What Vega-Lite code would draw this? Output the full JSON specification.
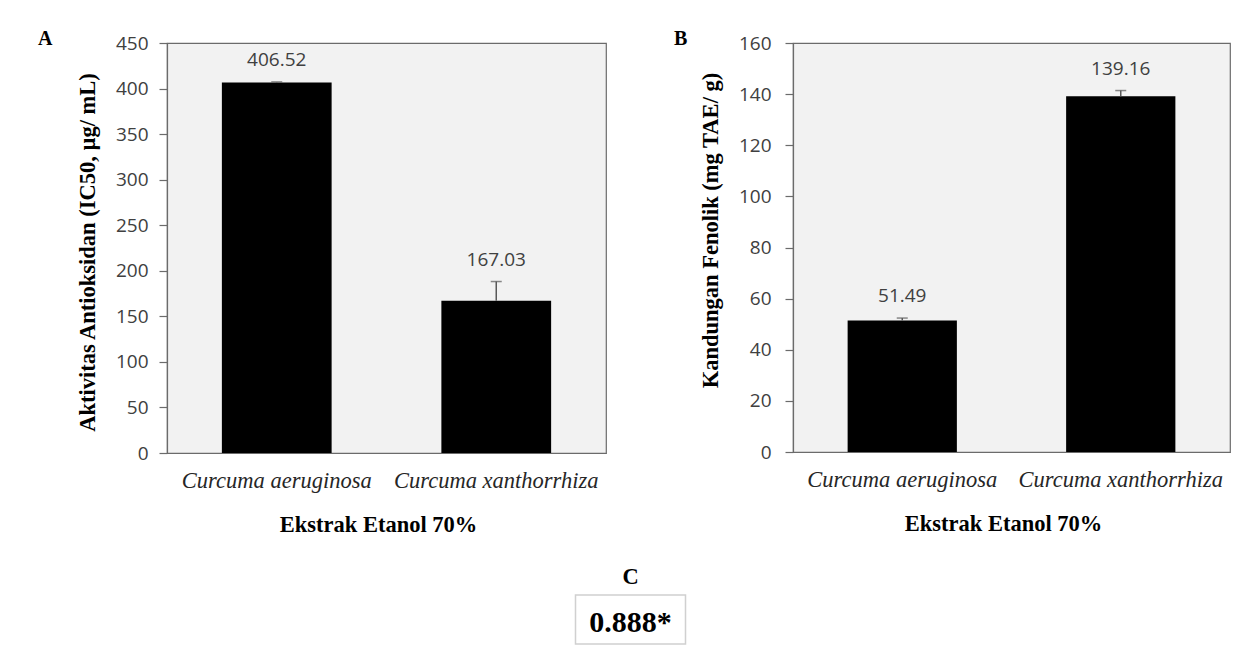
{
  "$schema": "https://vega.github.io/schema/vega-lite/v6.json",
  "background": "white",
  "padding": {"left": 37, "top": 28, "right": 10, "bottom": 4},
  "config": {
    "view": {"stroke": null},
    "axis": {"grid": false, "domainColor": "#6b6b6b", "tickColor": "#6b6b6b", "domainWidth": 1.2, "tickWidth": 1.2}
  },
  "datasets": {
    "antioksidan": [
      {"ekstrak": "Curcuma aeruginosa", "nilai": 406.52, "atas": 407.3},
      {"ekstrak": "Curcuma xanthorrhiza", "nilai": 167.03, "atas": 188.2}
    ],
    "fenolik": [
      {"ekstrak": "Curcuma aeruginosa", "nilai": 51.49, "atas": 52.4},
      {"ekstrak": "Curcuma xanthorrhiza", "nilai": 139.16, "atas": 141.4}
    ],
    "korelasi": [
      {"panel": "C", "nilai": "0.888*"}
    ]
  },
  "vconcat": [
    {
      "hconcat": [
        {
          "width": 439,
          "height": 410,
          "view": {"fill": "#f2f2f2", "stroke": "#6b6b6b", "strokeWidth": 1.2},
          "title": {"text": "A", "anchor": "start", "frame": "group", "orient": "top", "dx": -129, "offset": -31, "baseline": "alphabetic", "font": "Liberation Serif", "fontSize": 20, "fontWeight": "bold", "color": "#000000"},
          "data": {"name": "antioksidan"},
          "encoding": {
            "x": {
              "field": "ekstrak", "type": "nominal", "sort": null,
              "scale": {"paddingInner": 0.5, "paddingOuter": 0.25},
              "title": "Ekstrak Etanol 70%",
              "axis": {"labelAngle": 0, "ticks": false, "tickSize": 0, "labelPadding": 16, "labelLimit": 0, "labelFont": "Liberation Serif", "labelFontStyle": "italic", "labelFontSize": 22.5, "labelColor": "#262626", "titleFont": "Liberation Serif", "titleFontWeight": "bold", "titleFontSize": 22.5, "titleColor": "#000000", "titlePadding": 22, "titleX": 211}
            }
          },
          "layer": [
            {
              "mark": {"type": "bar", "color": "#000000"},
              "encoding": {
                "y": {
                  "field": "nilai", "type": "quantitative",
                  "scale": {"domain": [0, 450], "nice": false},
                  "title": "Aktivitas  Antioksidan (IC50, µg/ mL)",
                  "axis": {"values": [0, 50, 100, 150, 200, 250, 300, 350, 400, 450], "tickSize": 8, "labelPadding": 11, "labelFont": "Open Sans", "labelFontSize": 19, "labelColor": "#404040", "titleFont": "Liberation Serif", "titleFontSize": 22.5, "titleFontWeight": "bold", "titleColor": "#000000", "titlePadding": 16, "titleY": 209, "titleLimit": 0}
                }
              }
            },
            {
              "mark": {"type": "rule", "color": "#595959", "strokeWidth": 1.5},
              "encoding": {"y": {"field": "nilai", "type": "quantitative"}, "y2": {"field": "atas"}}
            },
            {
              "mark": {"type": "tick", "color": "#595959", "size": 11, "thickness": 1.5},
              "encoding": {"y": {"field": "atas", "type": "quantitative"}}
            },
            {
              "mark": {"type": "text", "baseline": "alphabetic", "dy": -16, "font": "Open Sans", "fontSize": 19, "color": "#404040"},
              "encoding": {"y": {"field": "atas", "type": "quantitative"}, "text": {"field": "nilai", "type": "quantitative", "format": ".2f"}}
            }
          ]
        },
        {
          "width": 437,
          "height": 409,
          "view": {"fill": "#f2f2f2", "stroke": "#6b6b6b", "strokeWidth": 1.2},
          "title": {"text": "B", "anchor": "start", "frame": "group", "orient": "top", "dx": -119, "offset": -31, "baseline": "alphabetic", "font": "Liberation Serif", "fontSize": 20, "fontWeight": "bold", "color": "#000000"},
          "data": {"name": "fenolik"},
          "encoding": {
            "x": {
              "field": "ekstrak", "type": "nominal", "sort": null,
              "scale": {"paddingInner": 0.5, "paddingOuter": 0.25},
              "title": "Ekstrak Etanol 70%",
              "axis": {"labelAngle": 0, "ticks": false, "tickSize": 0, "labelPadding": 16, "labelLimit": 0, "labelFont": "Liberation Serif", "labelFontStyle": "italic", "labelFontSize": 22.5, "labelColor": "#262626", "titleFont": "Liberation Serif", "titleFontWeight": "bold", "titleFontSize": 22.5, "titleColor": "#000000", "titlePadding": 22, "titleX": 210}
            }
          },
          "layer": [
            {
              "mark": {"type": "bar", "color": "#000000"},
              "encoding": {
                "y": {
                  "field": "nilai", "type": "quantitative",
                  "scale": {"domain": [0, 160], "nice": false},
                  "title": "Kandungan  Fenolik (mg TAE/ g)",
                  "axis": {"values": [0, 20, 40, 60, 80, 100, 120, 140, 160], "tickSize": 8, "labelPadding": 14, "labelFont": "Open Sans", "labelFontSize": 19, "labelColor": "#404040", "titleFont": "Liberation Serif", "titleFontSize": 22.5, "titleFontWeight": "bold", "titleColor": "#000000", "titlePadding": 16, "titleY": 187, "titleLimit": 0}
                }
              }
            },
            {
              "mark": {"type": "rule", "color": "#595959", "strokeWidth": 1.5},
              "encoding": {"y": {"field": "nilai", "type": "quantitative"}, "y2": {"field": "atas"}}
            },
            {
              "mark": {"type": "tick", "color": "#595959", "size": 11, "thickness": 1.5},
              "encoding": {"y": {"field": "atas", "type": "quantitative"}}
            },
            {
              "mark": {"type": "text", "baseline": "alphabetic", "dy": -16, "font": "Open Sans", "fontSize": 19, "color": "#404040"},
              "encoding": {"y": {"field": "atas", "type": "quantitative"}, "text": {"field": "nilai", "type": "quantitative", "format": ".2f"}}
            }
          ]
        }
      ],
      "spacing": 66
    },
    {
      "width": 927,
      "height": 49,
      "view": {"fill": "white", "stroke": null},
      "title": {"text": "C", "anchor": "middle", "frame": "group", "orient": "top", "offset": -12, "baseline": "alphabetic", "font": "Liberation Serif", "fontSize": 22.5, "fontWeight": "bold", "color": "#000000"},
      "data": {"name": "korelasi"},
      "encoding": {
        "x": {"field": "panel", "type": "nominal", "axis": null, "scale": {"paddingInner": 0, "paddingOuter": 0}}
      },
      "layer": [
        {
          "mark": {"type": "bar", "width": 110, "fill": "white", "stroke": "#d0d0d0", "strokeWidth": 1.5}
        },
        {
          "mark": {"type": "text", "baseline": "middle", "dy": 3, "font": "Liberation Serif", "fontSize": 30, "fontWeight": "bold", "color": "#000000"},
          "encoding": {"text": {"field": "nilai", "type": "nominal"}}
        }
      ]
    }
  ],
  "spacing": 28
}
